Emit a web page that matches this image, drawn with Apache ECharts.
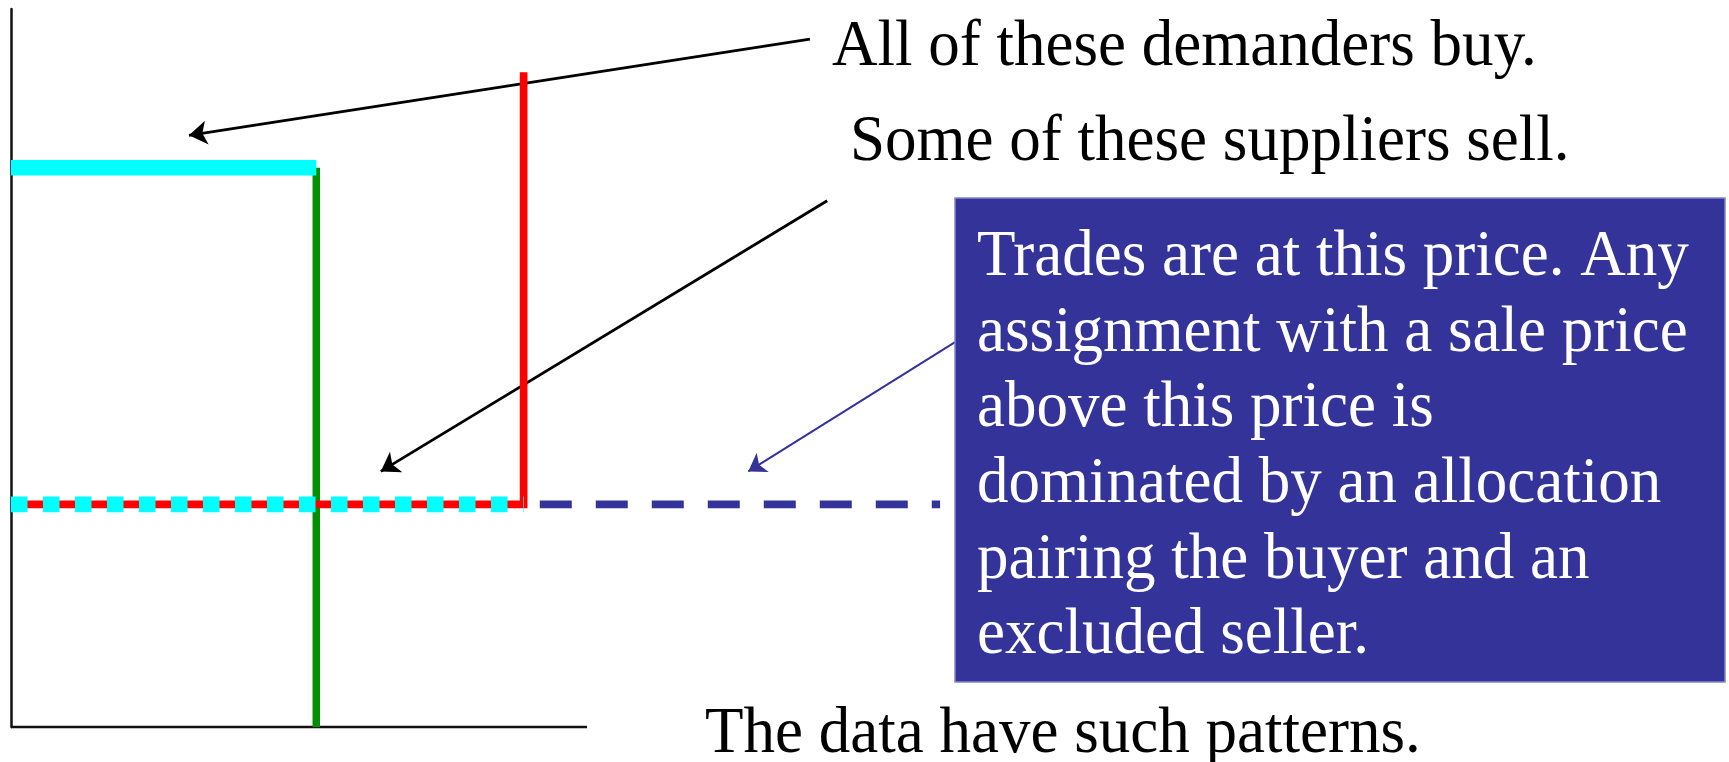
<!DOCTYPE html>
<html>
<head>
<meta charset="utf-8">
<script src="https://cdn.jsdelivr.net/npm/echarts@6/dist/echarts.min.js"></script>
<style>
html,body{margin:0;padding:0;background:#fff;}
#chart{width:1729px;height:762px;}
</style>
</head>
<body>
<div id="chart"></div>
<script>
// ---- data (axis units; the drawn horizontal axis spans 0..100) ----
const axisBase = [[0, 0], [100, 0]];                  // horizontal axis line
const demandTop = [[0, 77.9], [53, 77.9]];            // cyan: demanders' high value
const demandDrop = [[53, 77.9], [53, 0]];              // green vertical
const supplyStep = [[0, 31], [89, 31], [89, 91.2]];    // red supply step
const demandPrice = [[0, 31], [89, 31]];                // cyan dashes at trade price
const priceExtension = [[91.8, 31], [161.3, 31]];       // navy dashed extension
const blackArrows = [
  [[138.7, 95.8], [30.9, 82.4]],
  [[141.7, 73.3], [64.2, 35.6]]
];
const navyArrows = [
  [[163.9, 53.6], [128.0, 35.6]]
];
const labels = [
  {text: 'All of these demanders buy.', x: 832, y: 15},
  {text: 'Some of these suppliers sell.', x: 850, y: 110},
  {text: 'The data have such patterns.', x: 705, y: 702}
];
const boxLines = [
  'Trades are at this price. Any',
  'assignment with a sale price',
  'above this price is',
  'dominated by an allocation',
  'pairing the buyer and an',
  'excluded seller.'
];

const FONT = "'Liberation Serif', 'Times New Roman', serif";
const FS = 66, SX = 0.955;
const chart = echarts.init(document.getElementById('chart'), null, {renderer: 'canvas'});

const lineSeries = (data, color, width, dash) => ({
  type: 'line', data: data, symbol: 'none', clip: false, silent: true,
  lineStyle: {color: color, width: width, cap: 'butt', join: 'miter', type: dash || 'solid'},
  animation: false
});
const arrowSeries = (list, color, width, size) => ({
  type: 'lines', coordinateSystem: 'cartesian2d', clip: false, silent: true,
  symbol: ['none', 'arrow'], symbolSize: size, animation: false,
  lineStyle: {color: color, width: width, opacity: 1, curveness: 0},
  data: list.map(c => ({coords: c, lineStyle: {color: color, width: width}}))
});

chart.setOption({
  animation: false,
  backgroundColor: '#ffffff',
  grid: {left: 11, top: 9, width: 979.2, height: 718, containLabel: false},
  xAxis: {
    type: 'value', min: 0, max: 170,
    axisLine: {show: false},
    axisTick: {show: false}, axisLabel: {show: false}, splitLine: {show: false}
  },
  yAxis: {
    type: 'value', min: 0, max: 100,
    axisLine: {show: true, onZero: false, lineStyle: {color: '#111', width: 2.5}},
    axisTick: {show: false}, axisLabel: {show: false}, splitLine: {show: false}
  },
  series: [
    lineSeries(axisBase, '#111111', 2.5),
    lineSeries(demandDrop, '#008f00', 7.5),
    lineSeries(demandTop, '#00ffff', 15.5),
    lineSeries(supplyStep, '#ff0000', 7.7),
    lineSeries(demandPrice, '#00ffff', 15.7, [16.5, 15.5]),
    lineSeries(priceExtension, '#333399', 7.7, [32, 24]),
    arrowSeries(blackArrows, '#000000', 2.8, 18),
    arrowSeries(navyArrows, '#333399', 2, 17)
  ],
  graphic: [
    {
      type: 'rect', shape: {x: 955, y: 198, width: 770, height: 484},
      style: {fill: '#333399', stroke: '#8585c8', lineWidth: 1.5}, z: 10
    },
    {
      type: 'text', x: 977, y: 220, scaleX: SX, z: 11,
      style: {
        text: boxLines.join('\n'), fill: '#ffffff',
        font: FS + 'px ' + FONT, lineHeight: 75.6, verticalAlign: 'top', align: 'left'
      }
    }
  ].concat(labels.map(l => ({
    type: 'text', x: l.x, y: l.y, scaleX: SX, z: 11,
    style: {text: l.text, fill: '#000000', font: FS + 'px ' + FONT, verticalAlign: 'top', align: 'left'}
  })))
});
</script>
</body>
</html>
